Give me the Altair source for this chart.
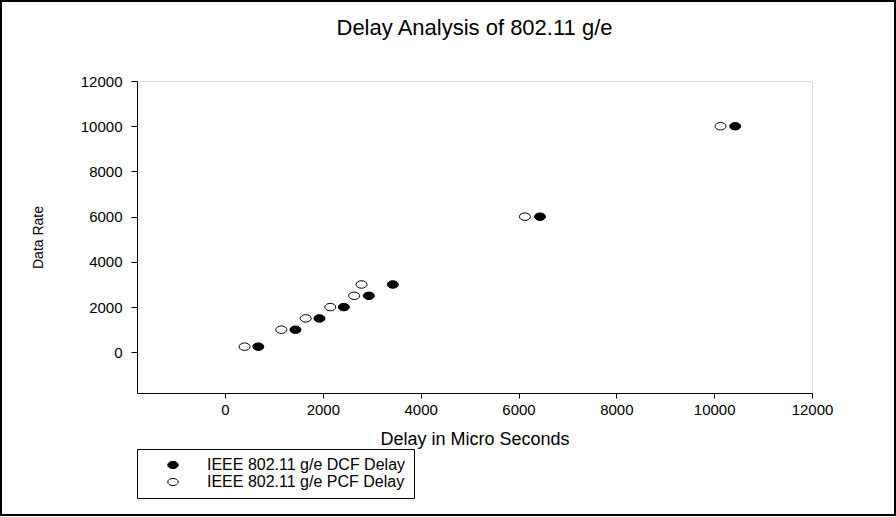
import altair as alt
import pandas as pd

# Data rate levels and the measured delay for each access method
rates = [250, 1000, 1500, 2000, 2500, 3000, 6000, 10000]
dcf_delay = [680, 1440, 1930, 2430, 2940, 3430, 6440, 10430]
pcf_delay = [400, 1150, 1650, 2150, 2640, 2790, 6130, 10130]
series_names = ["IEEE 802.11 g/e DCF Delay", "IEEE 802.11 g/e PCF Delay"]
axis_ticks = [0, 2000, 4000, 6000, 8000, 10000, 12000]

rows = []
for name, delays in zip(series_names, [dcf_delay, pcf_delay]):
    for d, r in zip(delays, rates):
        rows.append({"series": name, "delay": d, "rate": r})
df = pd.DataFrame(rows)

FONT = "Liberation Sans"
# slightly wide oval marker
OVAL = "M-1,0 A1,0.68 0 1,1 1,0 A1,0.68 0 1,1 -1,0 Z"

W, H = 675, 312
PAD = {"left": 137, "top": 81, "right": 84, "bottom": 124}

axis_common = dict(
    values=axis_ticks,
    format="d",
    grid=False,
    domainColor="black",
    tickColor="black",
    labelColor="black",
    labelFont=FONT,
    labelFontSize=15,
    labelFlush=False,
    labelOverlap=False,
    titleFont=FONT,
    titleFontWeight="normal",
    titleColor="black",
)

points = alt.Chart(df).mark_point(
    filled=True, shape=OVAL, size=121, stroke="black", strokeWidth=1, opacity=1
).encode(
    x=alt.X(
        "delay:Q",
        title="Delay in Micro Seconds",
        scale=alt.Scale(domain=[-1800, 12000], nice=False, zero=False),
        axis=alt.Axis(tickSize=5, labelPadding=4, titleFontSize=18, titlePadding=13, **axis_common),
    ),
    y=alt.Y(
        "rate:Q",
        title="Data Rate",
        scale=alt.Scale(domain=[-1800, 12000], nice=False, zero=False),
        axis=alt.Axis(tickSize=6, labelPadding=9, titleFontSize=14, titlePadding=35, **axis_common),
    ),
    fill=alt.Fill(
        "series:N",
        scale=alt.Scale(domain=series_names, range=["black", "white"]),
        legend=alt.Legend(
            title=None,
            orient="none",
            legendX=0,
            legendY=368,
            direction="vertical",
            strokeColor="black",
            fillColor="white",
            padding=8,
            symbolType=OVAL,
            symbolSize=110,
            symbolStrokeColor="black",
            symbolStrokeWidth=1,
            symbolOffset=20,
            labelOffset=26,
            labelFont=FONT,
            labelFontSize=16,
            labelColor="black",
            labelLimit=400,
            rowPadding=1,
        ),
    ),
)

# outer border around the whole figure
border = alt.Chart(alt.Data(values=[{"k": 1}])).mark_rect(
    fillOpacity=0, stroke="black", strokeWidth=2
).encode(
    x=alt.value(-136), x2=alt.value(758), y=alt.value(-80), y2=alt.value(434)
)

chart = alt.layer(border, points).properties(
    width=W,
    height=H,
    padding=PAD,
    autosize=alt.AutoSizeParams(type="none"),
    title=alt.TitleParams(
        "Delay Analysis of 802.11 g/e",
        font=FONT,
        fontSize=22,
        fontWeight="normal",
        color="black",
        anchor="middle",
        offset=-40,
    ),
).configure_view(stroke="#333333", strokeWidth=1).configure(background="white")

chart.save("out.html", embed_options={"renderer": "svg", "actions": False})
